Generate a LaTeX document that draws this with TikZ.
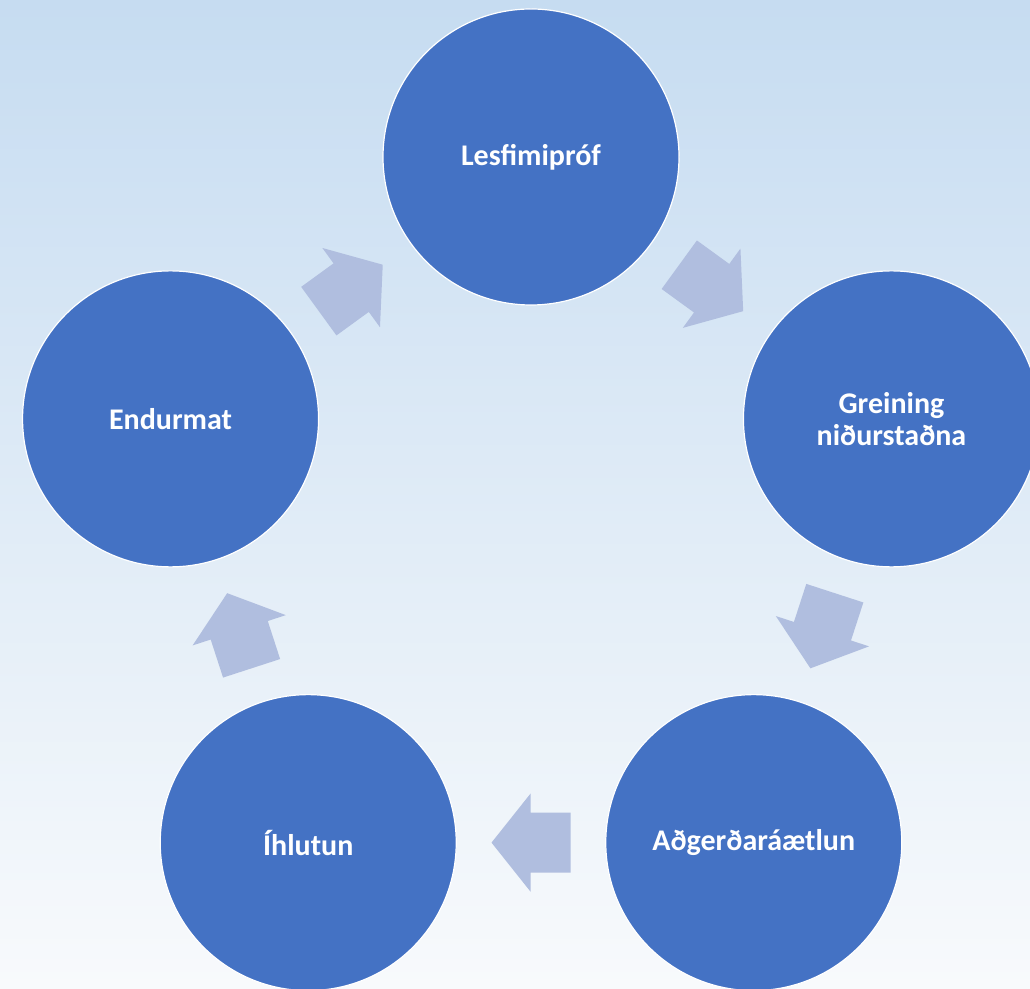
\documentclass[tikz,border=0pt]{standalone}
\usepackage{fontspec}
\setmainfont{Carlito}
\usetikzlibrary{calc}
\definecolor{bgtop}{HTML}{C6DCF1}
\definecolor{bgbot}{HTML}{F8FAFC}
\definecolor{circfill}{HTML}{4472C4}
\definecolor{arrfill}{HTML}{B0BEDF}
\begin{document}
\begin{tikzpicture}[x=1pt,y=1pt,
  stage/.style={circle, fill=circfill, draw=white, line width=1.2pt,
    minimum size=296pt, inner sep=0pt, text=white,
    font=\fontsize{30}{32}\selectfont\bfseries, align=center},
  blockarrow/.style={fill=arrfill}]
\shade[top color=bgtop, bottom color=bgbot] (0,0) rectangle (1030,988);
\useasboundingbox (0,0) rectangle (1030,988);
\coordinate (O) at (531,452);
\node[stage] (a) at ($(O)+(90:379)$) {Lesfimipróf};
\node[stage] (b) at ($(O)+(18:379)$) {Greining\\niðurstaðna};
\node[stage] (c) at ($(O)+(-54:379)$) {Aðgerðaráætlun};
\node[stage] (d) at ($(O)+(-126:379)$) {Íhlutun};
\node[stage] (e) at ($(O)+(162:379)$) {Endurmat};
\foreach \p/\q/\ang in {a/b/-36, b/c/-108, c/d/-180, d/e/-252, e/a/-324} {
  \fill[blockarrow, shift={($(\p)!0.5!(\q)$)}, rotate=\ang]
    (-39.5,-30) -- (0.5,-30) -- (0.5,-49) -- (39.5,0) -- (0.5,49)
    -- (0.5,30) -- (-39.5,30) -- cycle;
}
\end{tikzpicture}
\end{document}
